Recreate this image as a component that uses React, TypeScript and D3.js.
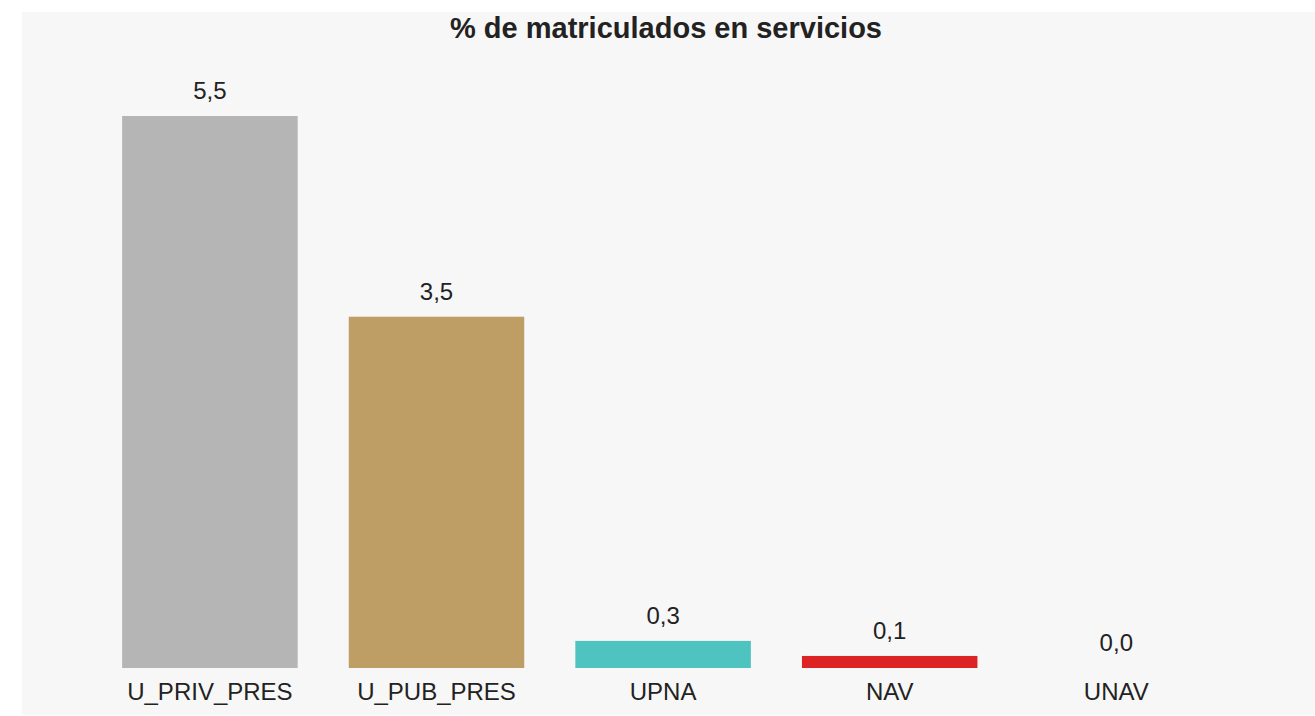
import React from "react";
import * as d3 from "d3";

const categories = ["U_PRIV_PRES", "U_PUB_PRES", "UPNA", "NAV", "UNAV"];
const values = [5.5, 3.5, 0.27, 0.12, 0.0];
const colors = ["#b5b5b5", "#bf9e66", "#4fc3c0", "#dc2424", "#9b59b6"];
const title = "% de matriculados en servicios";

const W = 1315;
const H = 716;
const FONT = "'Liberation Sans', Arial, sans-serif";

export default function App() {
  const x = d3
    .scaleBand<string>()
    .domain(categories)
    .range([96.6, 1229.6])
    .paddingInner(0.2255)
    .paddingOuter(0.11275);
  const y = d3.scaleLinear().domain([0, 5.5]).range([668, 116]);
  const fmt = (v: number) => d3.format(".1f")(v).replace(".", ",");

  return (
    <svg
      width={W}
      height={H}
      style={{ position: "absolute", left: 0, top: 0, display: "block" }}
    >
      <rect x={22} y={12} width={W - 22} height={H - 13} fill="#f7f7f7" />
      <text
        x={666}
        y={38}
        textAnchor="middle"
        fontFamily={FONT}
        fontWeight="bold"
        fontSize={29}
        fill="#222"
      >
        {title}
      </text>
      {categories.map((c, i) => {
        const bx = x(c)!;
        const bw = x.bandwidth();
        const top = y(values[i]);
        return (
          <g key={c}>
            <rect
              x={bx}
              y={top}
              width={bw}
              height={y(0) - top}
              fill={colors[i]}
            />
            <text
              x={bx + bw / 2}
              y={top - 17}
              textAnchor="middle"
              fontFamily={FONT}
              fontSize={24}
              fill="#222"
            >
              {fmt(values[i])}
            </text>
            <text
              x={bx + bw / 2}
              y={700}
              textAnchor="middle"
              fontFamily={FONT}
              fontSize={24}
              fill="#222"
            >
              {c}
            </text>
          </g>
        );
      })}
    </svg>
  );
}
